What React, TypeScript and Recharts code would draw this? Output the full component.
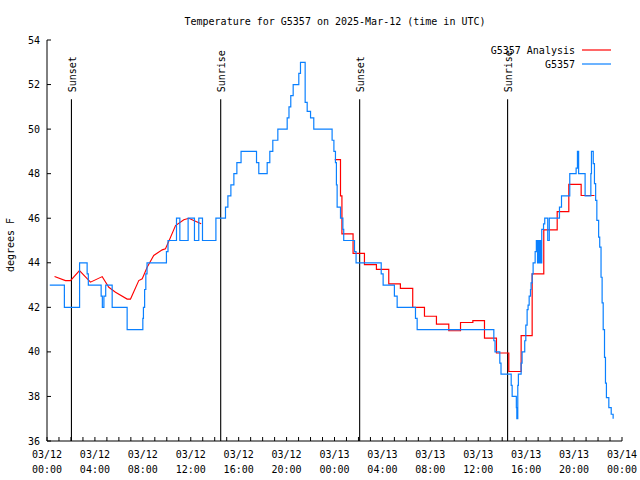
import React from 'react';
import { LineChart, Line, XAxis, YAxis, ReferenceLine, Customized } from 'recharts';

// Observations (G5357), hours since 03/12 00:00 UTC
const obsHours = [
  0.23, 1.45, 2.72, 3.35, 3.45, 4.52, 4.62, 4.75, 4.9, 5.44, 6.69, 8.0, 8.05, 8.15, 8.25, 8.35,
  9.97, 10.1, 10.81, 11.09, 11.78, 12.31, 12.67, 12.98, 14.1, 14.9, 15.1, 15.35, 15.6, 15.85, 16.2,
  17.49, 17.68, 18.38, 18.6, 18.85, 19.27, 20.05, 20.2, 20.35, 20.55, 21.02, 21.16, 21.55, 21.72,
  22.0, 22.27, 23.8, 23.95, 24.08, 24.16, 24.22, 24.5, 24.7, 24.77, 25.67, 25.8, 27.9, 28.06,
  29.0, 29.23, 30.76, 30.9, 37.3, 37.4, 37.8, 37.9, 38.75, 38.83, 39.18, 39.22, 39.3, 39.35,
  39.58, 39.66, 39.88, 39.97, 40.08, 40.16, 40.25, 40.36, 40.41, 40.5, 40.58, 40.75, 40.85,
  40.95, 41.0, 41.1, 41.15, 41.25, 41.3, 41.45, 41.55, 41.8, 41.93, 42.78, 42.95, 43.64, 44.17,
  44.28, 44.38, 44.92, 45.4, 45.45, 45.6, 45.7, 45.8, 45.9, 46.05, 46.14, 46.25, 46.34, 46.43,
  46.54, 46.62, 46.7, 46.9, 47.1, 47.26,
];
const obsTemps = [
  43, 42, 44, 43.5, 43, 42.5, 42, 42.5, 43, 42, 41, 41.5, 42, 42.8, 43.5, 44,
  44.5, 45, 46, 45, 46, 45, 46, 45, 46, 46.5, 47, 47.5, 48, 48.5, 49,
  48.5, 48, 48.5, 49, 49.5, 50, 50.5, 51, 51.5, 52, 52.5, 53, 51.2, 50.8,
  50.5, 50, 49.5, 49, 48.5, 47.5, 46.5, 46, 45.5, 45, 44.5, 44, 43.5, 43,
  42.5, 42, 41.5, 41, 40.5, 40, 39.5, 39, 38.5, 38, 37.5, 37, 38.5, 39,
  39.5, 40, 40.5, 41.2, 41.9, 42.1, 42.5, 42.8, 43.1, 43.5, 44, 44.5, 45,
  44, 45, 44, 45, 44, 45.5, 45.75, 46, 45, 46, 46.5, 47, 48, 48.25,
  49, 48, 47, 48, 49, 48.45, 47.55, 46.8, 45.9, 45.15, 44.7, 43.35, 42.2, 41.0,
  39.75, 38.6, 37.95, 37.5, 37.2, 37.0,
];

// Analysis (G5357 Analysis), first day: smooth segment
const anaEarlyHours = [
  0.63, 1.54, 1.96, 2.71, 3.63, 4.61, 5.16, 5.72, 6.69, 6.97, 7.66, 7.95, 8.36, 8.91, 9.62,
  9.89, 10.25, 10.73, 11.42, 11.84, 12.25, 12.87,
];
const anaEarlyTemps = [
  43.38, 43.2, 43.2, 43.65, 43.13, 43.38, 42.9, 42.68, 42.37, 42.37, 43.2, 43.28, 43.8, 44.33, 44.58,
  44.63, 45.07, 45.67, 45.93, 46.0, 45.9, 45.75,
];
// Analysis, second day: hourly steps
const anaLateHours = [
  24.02, 24.5, 24.62, 25.55, 26.5, 27.5, 28.53, 29.5, 30.53, 31.51, 32.51, 33.54, 34.52, 35.55,
  36.52, 37.52, 38.55, 39.58, 40.5, 41.47, 42.59, 43.56, 44.59, 45.7,
];
const anaLateTemps = [
  48.63, 47.0, 45.3, 44.42, 43.92, 43.7, 43.05, 42.85, 42.0, 41.6, 41.25, 40.95, 41.32, 41.4,
  40.62, 39.95, 39.12, 40.73, 43.5, 45.48, 46.3, 47.52, 47.02, 47.02,
];

const sunHours = [2.04, 14.5, 26.1, 38.45];
const sunNames = ['Sunset', 'Sunrise', 'Sunset', 'Sunrise'];
const sunLineTop = 51.34;

const yTicks = [36, 38, 40, 42, 44, 46, 48, 50, 52, 54];
const xTicks = Array.from({ length: 49 }, (_, i) => i);
const xLabelEvery = 4;
const dateLabels = ['03/12', '03/13', '03/14'];

const TITLE = 'Temperature for G5357 on 2025-Mar-12 (time in UTC)';
const Y_LABEL = 'degrees F';
const ANA_NAME = 'G5357 Analysis';
const OBS_NAME = 'G5357';

const RED = '#ff0000';
const BLUE = '#0a80ff';
const FONT = 'DejaVu Sans Mono, monospace';

const obsData = obsHours.map((h, i) => ({ h, v: obsTemps[i] }));
const anaEarly = anaEarlyHours.map((h, i) => ({ h, v: anaEarlyTemps[i] }));
const anaLate = anaLateHours.map((h, i) => ({ h, v: anaLateTemps[i] }));

const XTick = (props: any) => {
  const { x, y, payload } = props;
  const hr = payload.value as number;
  if (hr % xLabelEvery !== 0) return <g />;
  const date = dateLabels[Math.floor(hr / 24)];
  const time = String(hr % 24).padStart(2, '0') + ':00';
  return (
    <g>
      <text x={x} y={y + 21} textAnchor="middle" fontSize={10} fontFamily={FONT} fill="#000">{date}</text>
      <text x={x} y={y + 36} textAnchor="middle" fontSize={10} fontFamily={FONT} fill="#000">{time}</text>
    </g>
  );
};

const Empty = () => <g />;

const SunLabel = (props: any) => {
  const { viewBox, value } = props;
  if (!viewBox) return null;
  const x = viewBox.x + 4.5;
  const y = viewBox.y - 7;
  return (
    <text x={x} y={y} transform={`rotate(-90 ${x} ${y})`} fontSize={10} fontFamily={FONT} fill="#000">
      {value}
    </text>
  );
};

const Decor = () => (
  <g>
    <text x={334} y={24} textAnchor="middle" fontSize={10} fontFamily={FONT} fill="#000">{TITLE}</text>
    <text x={13} y={244} textAnchor="middle" fontSize={10} fontFamily={FONT} fill="#000" transform="rotate(-90 13 244)">{Y_LABEL}</text>
    <text x={574} y={53} textAnchor="end" fontSize={10} fontFamily={FONT} fill="#000">{ANA_NAME}</text>
    <line x1={581} x2={610} y1={49} y2={49} stroke={RED} strokeWidth={1.2} />
    <text x={574} y={67} textAnchor="end" fontSize={10} fontFamily={FONT} fill="#000">{OBS_NAME}</text>
    <line x1={581} x2={610} y1={63} y2={63} stroke={BLUE} strokeWidth={1.2} />
  </g>
);

export default function App() {
  return (
    <div style={{ position: 'absolute', left: 0.5, top: 0.5, background: '#fff' }}>
      <LineChart width={640} height={480} margin={{ top: 39, right: 19, bottom: 0, left: 0 }}>
        <XAxis
          dataKey="h"
          type="number"
          domain={[0, 48]}
          ticks={xTicks}
          interval={0}
          allowDataOverflow
          height={40}
          tickSize={-4}
          tickMargin={0}
          stroke="#000"
          tick={<XTick />}
        />
        <XAxis
          xAxisId="top"
          orientation="top"
          type="number"
          domain={[0, 48]}
          ticks={xTicks}
          interval={0}
          height={0}
          tickSize={-4}
          stroke="#000"
          tick={<Empty />}
        />
        <YAxis
          type="number"
          domain={[36, 54]}
          ticks={yTicks}
          interval={0}
          width={46}
          tickSize={-4}
          tickMargin={11}
          stroke="#000"
          tick={{ fontSize: 10, fontFamily: FONT, fill: '#000' }}
        />
        <YAxis
          yAxisId="right"
          orientation="right"
          type="number"
          domain={[36, 54]}
          ticks={yTicks}
          interval={0}
          width={0}
          tickSize={-4}
          stroke="#000"
          tick={<Empty />}
        />
        {sunHours.map((h, i) => (
          <ReferenceLine
            key={i}
            segment={[{ x: h, y: sunLineTop }, { x: h, y: 36 }]}
            stroke="#000"
            strokeWidth={1.1}
            ifOverflow="visible"
            label={<SunLabel value={sunNames[i]} />}
          />
        ))}
        <Line data={anaEarly} dataKey="v" type="linear" stroke={RED} strokeWidth={1.1} dot={false} isAnimationActive={false} />
        <Line data={anaLate} dataKey="v" type="stepAfter" stroke={RED} strokeWidth={1.2} dot={false} isAnimationActive={false} />
        <Line data={obsData} dataKey="v" type="stepAfter" stroke={BLUE} strokeWidth={1.2} dot={false} isAnimationActive={false} />
        <Customized component={Decor} />
      </LineChart>
    </div>
  );
}
